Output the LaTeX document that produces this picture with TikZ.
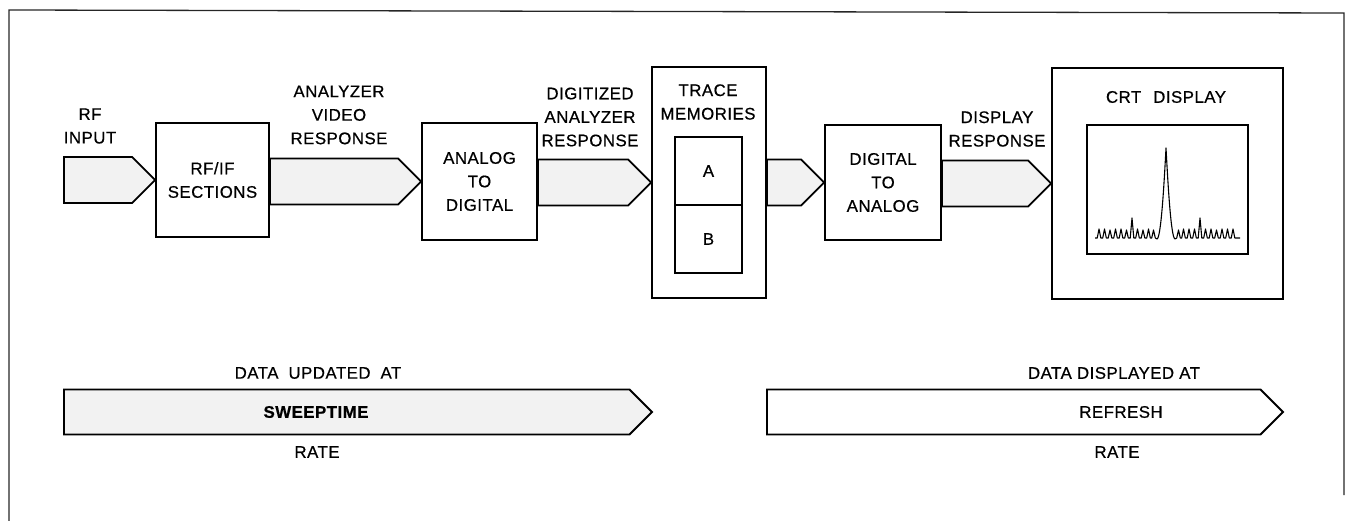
\documentclass[tikz,border=0pt]{standalone}
\usepackage{fontspec}
\setmainfont{Liberation Sans}[LetterSpace=3,FakeBold=0.6]
\usetikzlibrary{calc}
\tikzset{
  blk/.style={draw, line width=1.8pt, inner sep=0pt, align=center,
    font=\fontsize{16.8}{23.5}\selectfont},
  lbl/.style={font=\fontsize{16.8}{23.5}\selectfont, align=center, inner sep=0pt},
  fatline/.style={draw, line width=1.8pt, line join=miter, fill=black!5},
  frameline/.style={draw, line width=1.3pt, black!85},
}
\newcommand\fatarr[4][]{%
  \path[fatline,#1] let \p1=(#2), \p2=(#3) in
    (\x1,\y2+#4pt) -- (\x2-#4pt,\y2+#4pt) -- (\x2,\y2) -- (\x2-#4pt,\y2-#4pt)
    -- (\x1,\y2-#4pt) -- cycle;}
\begin{document}
\begin{tikzpicture}[x=1pt,y=-1pt]
\useasboundingbox (0,0) rectangle (1346,521);
% frame
\coordinate (f1) at (9,521);
\coordinate (f2) at (9,10);
\coordinate (f3) at (1344,13);
\coordinate (f4) at (1344,495);
\draw[frameline] (f1) -- (f2) -- (f3) -- (f4);

% blocks
\node[blk, minimum width=113pt, minimum height=114pt] (rfif) at (212.5,180)
  {\fontsize{16.8}{18.5}\selectfont RF/IF\\SECTIONS};
\node[blk, minimum width=115pt, minimum height=117pt] (ad) at (479.5,181.5)
  {ANALOG\\TO\\DIGITAL};
\node[blk, minimum width=114pt, minimum height=231pt] (trace) at (709,182.5) {};
\node[lbl] (tracetxt) at (708,102) {TRACE\\MEMORIES};
\node[blk, minimum width=67pt, minimum height=68pt] (mema) at (708.5,171) {A};
\node[blk, minimum width=67pt, minimum height=68pt] (memb) at (708.5,239) {B};
\node[blk, minimum width=116pt, minimum height=115pt] (da) at (883,182.5)
  {DIGITAL\\TO\\ANALOG};
\node[blk, minimum width=231pt, minimum height=231pt] (crt) at (1167.5,183.5) {};
\node[lbl] (crttxt) at (1166,97) {CRT\hspace{12pt}DISPLAY};
\node[blk, minimum width=161pt, minimum height=129pt] (screen) at (1167.5,189.5) {};

% signal arrows
\coordinate (rfin) at (64,180);
\fatarr{rfin}{rfif.west}{23}
\fatarr{rfif.east}{ad.west}{23}
\fatarr{ad.east}{trace.west}{23}
\fatarr{trace.east}{da.west}{23}
\fatarr{da.east}{crt.west}{23}

% labels
\node[lbl] (lrf) at (90,126) {RF\\INPUT};
\node[lbl] (lavr) at (339,115) {ANALYZER\\VIDEO\\RESPONSE};
\node[lbl] (ldar) at (590,117) {DIGITIZED\\ANALYZER\\RESPONSE};
\node[lbl] (ldr) at (997,129) {DISPLAY\\RESPONSE};

% spectrum trace
\draw[line width=1.1pt, line join=round] (1095,238)
  \foreach \x/\h in {1099/9,1104.5/9,1110/8,1115.5/9,1121/9,1126.5/8,1132/20,1137.5/9,1143/8,1148.5/9,1153.5/8}
    { -- (\x-1.8,238) -- (\x,238-\h) -- (\x+1.8,238) }
  -- (1157,239) .. controls (1161,238) and (1164,185) .. (1166,148)
  .. controls (1168,185) and (1171,238) .. (1175,239)
  \foreach \x/\h in {1178.5/8,1183.5/9,1189/9,1194.5/9,1200/20,1205.5/9,1211/9,1216.5/8,1222/9,1227.5/9,1233/9}
    { -- (\x-1.8,238) -- (\x,238-\h) -- (\x+1.8,238) }
  -- (1240,238);

% bottom rate arrows
\coordinate (s1) at (64,412);
\coordinate (e1) at (652,412);
\coordinate (s2) at (767,412);
\coordinate (e2) at (1283,412);
\fatarr{s1}{e1}{22.5}
\fatarr[fill=white]{s2}{e2}{22.5}
\node[lbl] (upd) at (318,373) {DATA\hspace{10pt}UPDATED\hspace{10pt}AT};
\node[lbl, font=\fontsize{16.8}{23.5}\selectfont\bfseries] (sweep) at (316,412) {SWEEPTIME};
\node[lbl] (rate1) at (317,452) {RATE};
\node[lbl] (disp) at (1114,373) {DATA DISPLAYED AT};
\node[lbl] (refr) at (1121,412) {REFRESH};
\node[lbl] (rate2) at (1117,452) {RATE};
\end{tikzpicture}
\end{document}
